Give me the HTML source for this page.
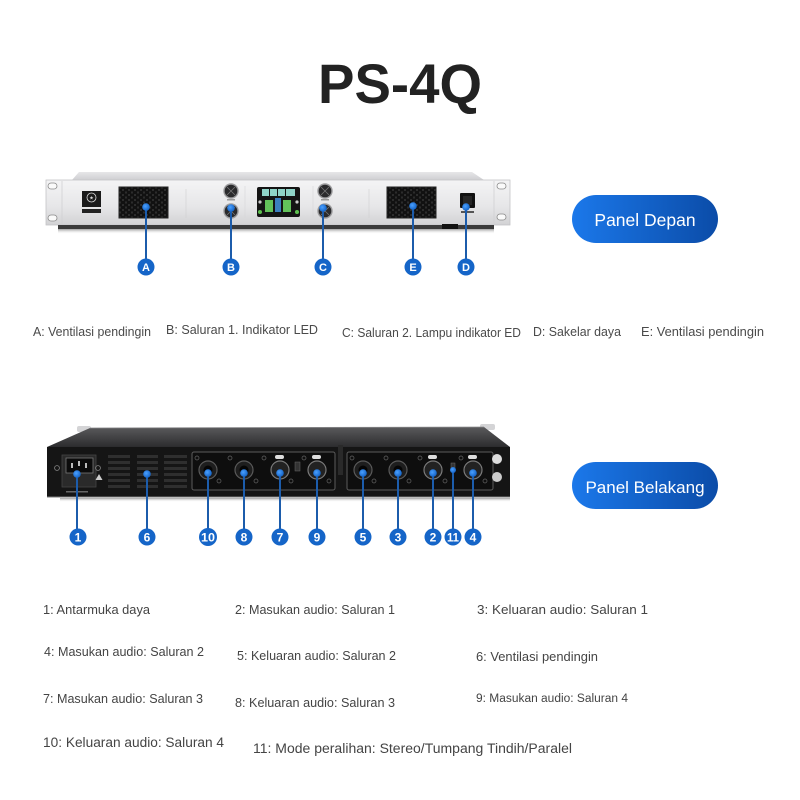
<!DOCTYPE html>
<html><head><meta charset="utf-8"><style>
html,body{margin:0;padding:0;background:#fff;}
svg{display:block;}
</style></head><body>
<svg width="800" height="800" viewBox="0 0 800 800" xmlns="http://www.w3.org/2000/svg" font-family="'Liberation Sans', sans-serif">
<defs>
<linearGradient id="face" x1="0" y1="0" x2="0" y2="1">
<stop offset="0" stop-color="#f4f4f5"/><stop offset="0.6" stop-color="#e6e6e8"/><stop offset="1" stop-color="#d2d2d4"/>
</linearGradient>
<linearGradient id="top" x1="0" y1="0" x2="0" y2="1">
<stop offset="0" stop-color="#e6e6e8"/><stop offset="1" stop-color="#cfcfd2"/>
</linearGradient>
<linearGradient id="rtop" x1="0" y1="0" x2="0" y2="1">
<stop offset="0" stop-color="#5a5a5c"/><stop offset="1" stop-color="#2c2c2e"/>
</linearGradient>
<linearGradient id="shadow" x1="0" y1="0" x2="0" y2="1">
<stop offset="0" stop-color="#777" stop-opacity="0.7"/><stop offset="1" stop-color="#fff" stop-opacity="0"/>
</linearGradient>
<linearGradient id="btn" x1="0" y1="0" x2="1" y2="0">
<stop offset="0" stop-color="#1b78ea"/><stop offset="1" stop-color="#0b4ca8"/>
</linearGradient>
<pattern id="hex" width="6" height="5" patternUnits="userSpaceOnUse">
<rect width="6" height="5" fill="#3a3a3a"/>
<ellipse cx="3" cy="2.5" rx="2.4" ry="1.6" fill="#111"/>
<ellipse cx="0" cy="0" rx="2.4" ry="1.6" fill="#111"/>
<ellipse cx="6" cy="0" rx="2.4" ry="1.6" fill="#111"/>
<ellipse cx="0" cy="5" rx="2.4" ry="1.6" fill="#111"/>
<ellipse cx="6" cy="5" rx="2.4" ry="1.6" fill="#111"/>
</pattern>
<radialGradient id="dot" cx="0.4" cy="0.4" r="0.6">
<stop offset="0" stop-color="#4aa0ff"/><stop offset="1" stop-color="#1665c8"/>
</radialGradient>
</defs>

<!-- Title -->
<text x="400" y="103" text-anchor="middle" font-size="56" font-weight="bold" fill="#222" textLength="164" lengthAdjust="spacingAndGlyphs">PS-4Q</text>

<!-- ===== FRONT PANEL ===== -->
<polygon points="72,180 79,172 472,172 484,180" fill="url(#top)"/>
<rect x="46" y="180" width="464" height="45" fill="url(#face)" stroke="#c4c4c6" stroke-width="0.8"/>
<rect x="58" y="225" width="436" height="4" fill="#3a3a3a"/>
<rect x="58" y="229" width="436" height="5" fill="url(#shadow)"/>
<rect x="442" y="224" width="16" height="5" fill="#111"/>
<line x1="62" y1="181" x2="62" y2="224" stroke="#d0d0d2" stroke-width="0.8"/>
<line x1="494" y1="181" x2="494" y2="224" stroke="#d0d0d2" stroke-width="0.8"/>
<!-- ear holes -->
<rect x="48" y="183" width="9" height="6" rx="3" fill="#fafafa" stroke="#8a8a8a" stroke-width="0.8"/>
<rect x="48" y="215" width="9" height="6" rx="3" fill="#fafafa" stroke="#8a8a8a" stroke-width="0.8"/>
<rect x="497" y="183" width="9" height="6" rx="3" fill="#fafafa" stroke="#8a8a8a" stroke-width="0.8"/>
<rect x="497" y="214" width="9" height="6" rx="3" fill="#fafafa" stroke="#8a8a8a" stroke-width="0.8"/>
<!-- logo -->
<rect x="82" y="191" width="19" height="16" fill="#1a1a1a"/>
<circle cx="91.5" cy="197.5" r="4.5" fill="none" stroke="#ddd" stroke-width="0.8"/>
<text x="91.5" y="199.5" text-anchor="middle" font-size="5" fill="#ddd">★</text>
<rect x="82" y="209" width="19" height="4" fill="#222"/>
<!-- seams -->
<line x1="186" y1="189" x2="186" y2="218" stroke="#cfcfd1" stroke-width="0.6"/>
<line x1="369" y1="189" x2="369" y2="218" stroke="#cfcfd1" stroke-width="0.6"/>
<line x1="313" y1="186" x2="313" y2="218" stroke="#d6d6d8" stroke-width="0.6"/>
<line x1="245" y1="186" x2="245" y2="218" stroke="#d6d6d8" stroke-width="0.6"/>
<!-- vents -->
<rect x="119" y="187" width="49" height="31" fill="url(#hex)" stroke="#222" stroke-width="1"/>
<rect x="387" y="187" width="49" height="31" fill="url(#hex)" stroke="#222" stroke-width="1"/>
<!-- knobs -->
<g stroke="#9c9c9e" stroke-width="1.4" fill="#2a2a2c">
<circle cx="231" cy="191" r="7"/><circle cx="231" cy="211" r="7"/>
<circle cx="325" cy="191" r="7"/><circle cx="325" cy="211" r="7"/>
</g>
<g stroke="#777" stroke-width="0.8">
<line x1="227" y1="187" x2="235" y2="195"/><line x1="235" y1="187" x2="227" y2="195"/>
<line x1="321" y1="187" x2="329" y2="195"/><line x1="329" y1="187" x2="321" y2="195"/>
<line x1="227" y1="207" x2="235" y2="215"/><line x1="235" y1="207" x2="227" y2="215"/>
<line x1="321" y1="207" x2="329" y2="215"/><line x1="329" y1="207" x2="321" y2="215"/>
</g>
<rect x="227" y="199" width="8" height="1.5" fill="#999"/>
<rect x="321" y="199" width="8" height="1.5" fill="#999"/>
<!-- display -->
<rect x="257" y="187" width="43" height="30" rx="2" fill="#141414"/>
<rect x="262" y="189" width="33" height="7" fill="#8fd4c8"/>
<g fill="#141414"><rect x="269" y="189" width="1" height="7"/><rect x="277" y="189" width="1" height="7"/><rect x="285" y="189" width="1" height="7"/></g>
<rect x="265" y="200" width="8" height="12" fill="#62c25a"/>
<rect x="283" y="200" width="8" height="12" fill="#62c25a"/>
<rect x="275" y="198" width="6" height="14" fill="#3b7fc0"/>
<circle cx="260" cy="212" r="2" fill="#5dc04f"/><circle cx="297" cy="212" r="2" fill="#5dc04f"/>
<circle cx="260" cy="202" r="1.6" fill="#ccc"/><circle cx="297" cy="202" r="1.6" fill="#ccc"/>
<!-- power switch -->
<rect x="460" y="193" width="15" height="15" rx="1" fill="#111"/>
<rect x="463" y="196" width="9" height="9" fill="#262626"/>
<rect x="461" y="211" width="13" height="2" fill="#555"/>

<!-- front connectors -->
<g stroke="#1c5cab" stroke-width="2">
<line x1="146" y1="207" x2="146" y2="262"/>
<line x1="231" y1="208" x2="231" y2="262"/>
<line x1="323" y1="208" x2="323" y2="262"/>
<line x1="413" y1="206" x2="413" y2="262"/>
<line x1="466" y1="207" x2="466" y2="262"/>
</g>
<g fill="url(#dot)">
<circle cx="146" cy="207" r="3.8"/><circle cx="231" cy="208" r="3.8"/><circle cx="323" cy="208" r="3.8"/><circle cx="413" cy="206" r="3.8"/><circle cx="466" cy="207" r="3.8"/>
</g>
<g fill="#1565c8">
<circle cx="146" cy="267" r="8.5"/><circle cx="231" cy="267" r="8.5"/><circle cx="323" cy="267" r="8.5"/><circle cx="413" cy="267" r="8.5"/><circle cx="466" cy="267" r="8.5"/>
</g>
<g fill="#fff" font-size="11" font-weight="bold" text-anchor="middle">
<text x="146" y="271">A</text><text x="231" y="271">B</text><text x="323" y="271">C</text><text x="413" y="271">E</text><text x="466" y="271">D</text>
</g>

<!-- Panel Depan button -->
<rect x="572" y="195" width="146" height="48" rx="24" fill="url(#btn)"/>
<text x="645" y="226" text-anchor="middle" font-size="17.5" fill="#fff">Panel Depan</text>

<!-- front labels -->
<g font-size="12.5" fill="#4a4a4a">
<text x="33" y="336" textLength="118" lengthAdjust="spacingAndGlyphs">A: Ventilasi pendingin</text>
<text x="166" y="334" textLength="152" lengthAdjust="spacingAndGlyphs">B: Saluran 1. Indikator LED</text>
<text x="342" y="337" textLength="179" lengthAdjust="spacingAndGlyphs">C: Saluran 2. Lampu indikator ED</text>
<text x="533" y="336" textLength="88" lengthAdjust="spacingAndGlyphs">D: Sakelar daya</text>
<text x="641" y="336" textLength="123" lengthAdjust="spacingAndGlyphs">E: Ventilasi pendingin</text>
</g>

<!-- ===== REAR PANEL ===== -->
<rect x="77" y="426" width="14" height="6" rx="2" fill="#d4d4d6"/>
<rect x="480" y="424" width="15" height="6" rx="2" fill="#d4d4d6"/>
<polygon points="47,447 90,428 484,427 510,447" fill="url(#rtop)"/>
<line x1="90" y1="428" x2="484" y2="427" stroke="#8a8a8c" stroke-width="0.8"/>
<rect x="47" y="447" width="463" height="50" fill="#151515"/>
<line x1="47" y1="497" x2="510" y2="497" stroke="#7a7a7a" stroke-width="1"/>
<rect x="60" y="498" width="450" height="4" fill="url(#shadow)"/>
<!-- power inlet -->
<rect x="62" y="455" width="34" height="32" fill="#2a2a2a" stroke="#444" stroke-width="0.8"/>
<rect x="66" y="458" width="27" height="15" fill="#0b0b0b" stroke="#777" stroke-width="0.8"/>
<g fill="#bbb"><rect x="71" y="463" width="2" height="5"/><rect x="78" y="461" width="2" height="5"/><rect x="85" y="463" width="2" height="5"/></g>
<circle cx="57" cy="468" r="2.4" fill="none" stroke="#888" stroke-width="0.8"/>
<circle cx="98" cy="468" r="2.4" fill="none" stroke="#888" stroke-width="0.8"/>
<polygon points="99,474 102.5,480 95.5,480" fill="#ccc"/>
<rect x="66" y="491" width="22" height="1.5" fill="#666"/>
<!-- vent slats -->
<g fill="#2f2f2f">
<rect x="108" y="455" width="22" height="3"/><rect x="108" y="461" width="22" height="3"/><rect x="108" y="467" width="22" height="3"/><rect x="108" y="473" width="22" height="3"/><rect x="108" y="479" width="22" height="3"/><rect x="108" y="485" width="22" height="3"/>
<rect x="137" y="455" width="21" height="3"/><rect x="137" y="461" width="21" height="3"/><rect x="137" y="467" width="21" height="3"/><rect x="137" y="473" width="21" height="3"/><rect x="137" y="479" width="21" height="3"/><rect x="137" y="485" width="21" height="3"/>
<rect x="164" y="455" width="23" height="3"/><rect x="164" y="461" width="23" height="3"/><rect x="164" y="467" width="23" height="3"/><rect x="164" y="473" width="23" height="3"/><rect x="164" y="479" width="23" height="3"/><rect x="164" y="485" width="23" height="3"/>
</g>
<!-- connector boxes -->
<rect x="192" y="452" width="143" height="38" rx="2" fill="#0e0e0e" stroke="#5c5c5c" stroke-width="1"/>
<rect x="347" y="452" width="146" height="38" rx="2" fill="#0e0e0e" stroke="#5c5c5c" stroke-width="1"/>
<rect x="338" y="445" width="5" height="30" fill="#2a2a2a"/>
<!-- speakon -->
<g fill="#1e1e1e" stroke="#5a5a5a" stroke-width="1.2">
<circle cx="208" cy="470" r="9"/><circle cx="244" cy="470" r="9"/><circle cx="363" cy="470" r="9"/><circle cx="398" cy="470" r="9"/>
</g>
<g fill="#050505"><circle cx="208" cy="470" r="4.5"/><circle cx="244" cy="470" r="4.5"/><circle cx="363" cy="470" r="4.5"/><circle cx="398" cy="470" r="4.5"/></g>
<!-- XLR -->
<g fill="#222" stroke="#7a7a7a" stroke-width="1.2">
<circle cx="280" cy="470" r="9"/><circle cx="317" cy="470" r="9"/><circle cx="433" cy="470" r="9"/><circle cx="473" cy="470" r="9"/>
</g>
<g fill="#ddd"><rect x="275" y="455" width="9" height="4" rx="2"/><rect x="312" y="455" width="9" height="4" rx="2"/><rect x="428" y="455" width="9" height="4" rx="2"/><rect x="468" y="455" width="9" height="4" rx="2"/></g>
<!-- small screws -->
<g fill="none" stroke="#666" stroke-width="0.7">
<circle cx="197" cy="458" r="2"/><circle cx="219" cy="481" r="2"/><circle cx="230" cy="458" r="2"/><circle cx="256" cy="481" r="2"/>
<circle cx="264" cy="458" r="2"/><circle cx="291" cy="481" r="2"/><circle cx="304" cy="458" r="2"/><circle cx="329" cy="481" r="2"/>
<circle cx="352" cy="458" r="2"/><circle cx="374" cy="481" r="2"/><circle cx="386" cy="458" r="2"/><circle cx="409" cy="481" r="2"/>
<circle cx="420" cy="458" r="2"/><circle cx="445" cy="481" r="2"/><circle cx="461" cy="458" r="2"/><circle cx="485" cy="481" r="2"/>
</g>
<!-- switches -->
<rect x="295" y="462" width="5" height="9" fill="#333" stroke="#666" stroke-width="0.5"/>
<rect x="451" y="463" width="4" height="8" fill="#333" stroke="#666" stroke-width="0.5"/>
<!-- right screws -->
<circle cx="497" cy="459" r="5" fill="#ddd"/>
<circle cx="497" cy="477" r="5" fill="#ccc"/>

<!-- rear connectors -->
<g stroke="#1c5cab" stroke-width="2">
<line x1="77" y1="474" x2="77" y2="532"/>
<line x1="147" y1="474" x2="147" y2="532"/>
<line x1="208" y1="473" x2="208" y2="532"/>
<line x1="244" y1="473" x2="244" y2="532"/>
<line x1="280" y1="473" x2="280" y2="532"/>
<line x1="317" y1="473" x2="317" y2="532"/>
<line x1="363" y1="473" x2="363" y2="532"/>
<line x1="398" y1="473" x2="398" y2="532"/>
<line x1="433" y1="473" x2="433" y2="532"/>
<line x1="453" y1="470" x2="453" y2="532"/>
<line x1="473" y1="473" x2="473" y2="532"/>
</g>
<g fill="url(#dot)">
<circle cx="77" cy="474" r="3.8"/><circle cx="147" cy="474" r="3.8"/><circle cx="208" cy="473" r="3.8"/><circle cx="244" cy="473" r="3.8"/><circle cx="280" cy="473" r="3.8"/><circle cx="317" cy="473" r="3.8"/><circle cx="363" cy="473" r="3.8"/><circle cx="398" cy="473" r="3.8"/><circle cx="433" cy="473" r="3.8"/><circle cx="453" cy="470" r="3"/><circle cx="473" cy="473" r="3.8"/>
</g>
<g fill="#1565c8">
<circle cx="78" cy="537" r="8.5"/><circle cx="147" cy="537" r="8.5"/><circle cx="208" cy="537" r="9"/><circle cx="244" cy="537" r="8.5"/><circle cx="280" cy="537" r="8.5"/><circle cx="317" cy="537" r="8.5"/><circle cx="363" cy="537" r="8.5"/><circle cx="398" cy="537" r="8.5"/><circle cx="433" cy="537" r="8.5"/><circle cx="453" cy="537" r="8.5"/><circle cx="473" cy="537" r="8.5"/>
</g>
<g fill="#fff" font-size="12" font-weight="bold" text-anchor="middle">
<text x="78" y="541.5">1</text><text x="147" y="541.5">6</text><text x="208" y="541.5" textLength="14" lengthAdjust="spacingAndGlyphs">10</text><text x="244" y="541.5">8</text><text x="280" y="541.5">7</text><text x="317" y="541.5">9</text><text x="363" y="541.5">5</text><text x="398" y="541.5">3</text><text x="433" y="541.5">2</text><text x="453" y="541.5" textLength="12" lengthAdjust="spacingAndGlyphs">11</text><text x="473" y="541.5">4</text>
</g>

<!-- Panel Belakang button -->
<rect x="572" y="462" width="146" height="47" rx="23.5" fill="url(#btn)"/>
<text x="645" y="493" text-anchor="middle" font-size="17" fill="#fff">Panel Belakang</text>

<!-- rear labels -->
<g font-size="12.5" fill="#444">
<text x="43" y="614" textLength="107" lengthAdjust="spacingAndGlyphs">1: Antarmuka daya</text>
<text x="235" y="614" textLength="160" lengthAdjust="spacingAndGlyphs">2: Masukan audio: Saluran 1</text>
<text x="477" y="614" font-size="13" textLength="171" lengthAdjust="spacingAndGlyphs">3: Keluaran audio: Saluran 1</text>
<text x="44" y="656" textLength="160" lengthAdjust="spacingAndGlyphs">4: Masukan audio: Saluran 2</text>
<text x="237" y="660" textLength="159" lengthAdjust="spacingAndGlyphs">5: Keluaran audio: Saluran 2</text>
<text x="476" y="661" textLength="122" lengthAdjust="spacingAndGlyphs">6: Ventilasi pendingin</text>
<text x="43" y="703" textLength="160" lengthAdjust="spacingAndGlyphs">7: Masukan audio: Saluran 3</text>
<text x="235" y="707" textLength="160" lengthAdjust="spacingAndGlyphs">8: Keluaran audio: Saluran 3</text>
<text x="476" y="702" font-size="11.5" textLength="152" lengthAdjust="spacingAndGlyphs">9: Masukan audio: Saluran 4</text>
<text x="43" y="747" font-size="13.5" textLength="181" lengthAdjust="spacingAndGlyphs">10: Keluaran audio: Saluran 4</text>
<text x="253" y="753" font-size="13.5" textLength="319" lengthAdjust="spacingAndGlyphs">11: Mode peralihan: Stereo/Tumpang Tindih/Paralel</text>
</g>
</svg>
</body></html>
